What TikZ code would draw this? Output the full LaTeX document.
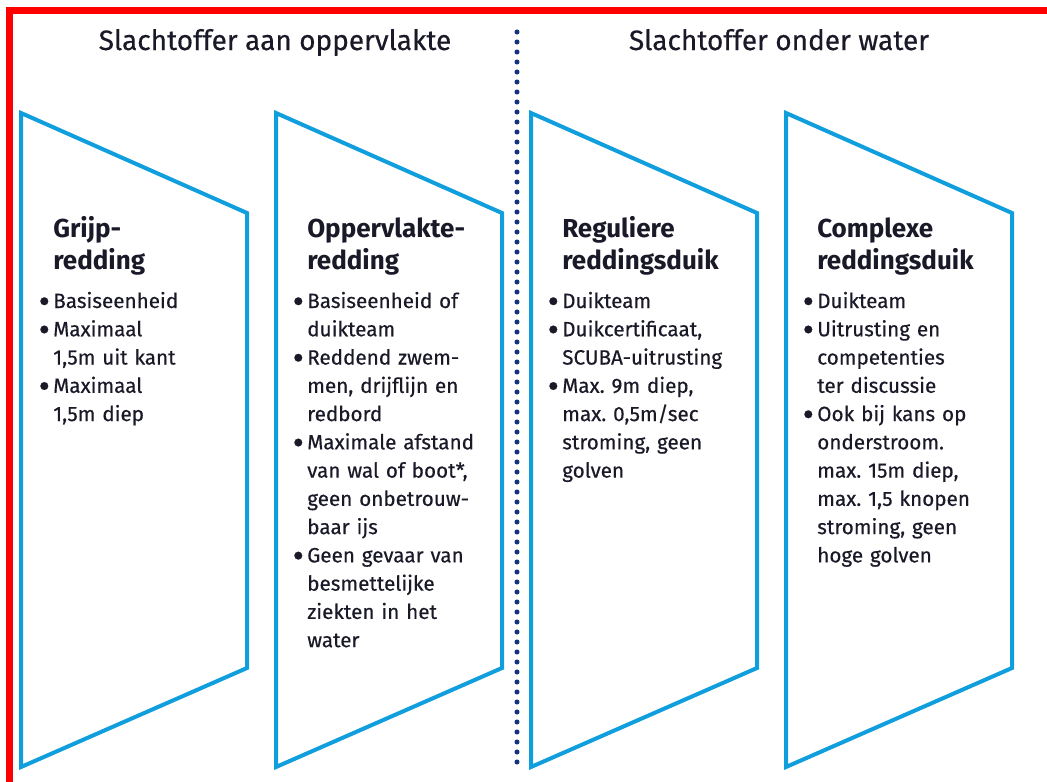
\documentclass[tikz,border=0pt]{standalone}
\usepackage{fontspec}
\setmainfont{Fira Sans}
\newfontfamily\bodyfont{Fira Sans}[FakeBold=0.4]
\definecolor{frameRed}{RGB}{255,0,0}
\definecolor{shapeBlue}{RGB}{16,158,220}
\definecolor{dotNavy}{RGB}{20,50,130}
\definecolor{txt}{RGB}{25,25,40}
\newcommand{\bul}{\leavevmode\llap{\smash{\raisebox{-3.8pt}{\fontsize{26}{0}\selectfont\textbullet}}\hspace{2.5pt}}}
\frenchspacing
\begin{document}
\begin{tikzpicture}[x=0.75pt,y=-0.75pt,
  panel/.style={draw=shapeBlue,line width=3pt,line join=miter},
  title/.style={font=\bodyfont\fontsize{21}{24}\selectfont, text=txt, anchor=base, inner sep=0},
  head/.style={font=\bfseries\fontsize{19.5}{24}\selectfont, text=txt, anchor=base west, inner sep=0, text width=160pt, align=left},
  items/.style={font=\bodyfont\fontsize{15.5}{21.2}\selectfont, text=txt, anchor=base west, inner sep=0, text width=160pt, align=left}]
\useasboundingbox (0,0) rectangle (1047,782);
% red frame
\draw[frameRed, line width=5.25pt] (9.5,782) -- (9.5,10.5) -- (1047,10.5);
% panels
\foreach \x in {21,276,531,786}
  \draw[panel] (\x,113) -- (\x+226,213) -- (\x+226,668) -- (\x,767) -- cycle;
% divider
\coordinate (dtop) at (517,32);
\coordinate (dbot) at (517,770);
\draw[dotNavy, line width=3.8pt, line cap=round, dash pattern=on 0pt off 7.5pt] (dtop) -- (dbot);
% titles
\node[title] (t1) at (275,50) {Slachtoffer aan oppervlakte};
\node[title] (t2) at (779,50) {Slachtoffer onder water};
% column 1
\node[head] (h1) at (53,237) {Grijp-\\redding};
\node[items] (l1) at (53,308) {\bul Basiseenheid\\
\bul Maximaal\\ 1,5m uit kant\\
\bul Maximaal\\ 1,5m diep};
% column 2
\node[head] (h2) at (307,237) {Oppervlakte-\\redding};
\node[items] (l2) at (307,308) {\bul Basiseenheid of\\ duikteam\\
\bul Reddend zwem-\\ men, drijflijn en\\ redbord\\
\bul Maximale afstand\\ van wal of boot*,\\ geen onbetrouw-\\ baar ijs\\
\bul Geen gevaar van\\ besmettelijke\\ ziekten in het\\ water};
% column 3
\node[head] (h3) at (562,237) {Reguliere\\reddingsduik};
\node[items] (l3) at (562,308) {\bul Duikteam\\
\bul Duikcertificaat,\\ SCUBA-uitrusting\\
\bul Max. 9m diep,\\ max. 0,5m/sec\\ stroming, geen\\ golven};
% column 4
\node[head] (h4) at (817,237) {Complexe\\reddingsduik};
\node[items] (l4) at (817,308) {\bul Duikteam\\
\bul Uitrusting en\\ competenties\\ ter discussie\\
\bul Ook bij kans op\\ onderstroom.\\ max. 15m diep,\\ max. 1,5 knopen\\ stroming, geen\\ hoge golven};
\end{tikzpicture}
\end{document}
